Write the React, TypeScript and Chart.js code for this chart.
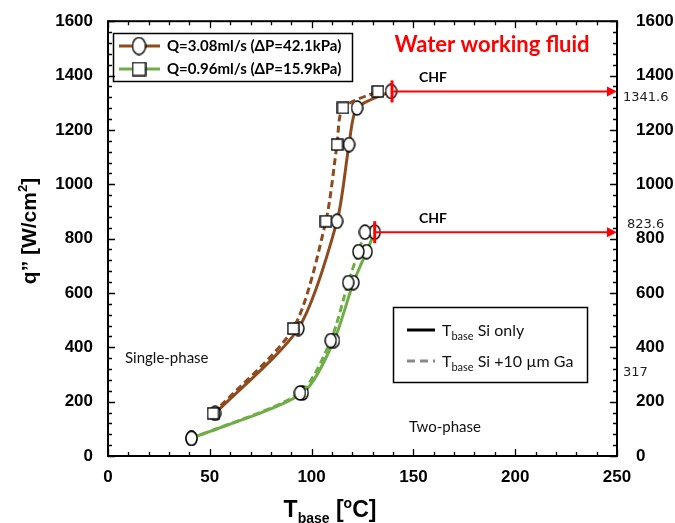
import React, { useEffect, useRef } from "react";
import { Chart, registerables } from "chart.js";

Chart.register(...registerables);

// ---- data ----
const brownY = [157, 469, 864, 1146, 1281, 1341.6];
const brownSolidX = [52.6, 93.5, 112.5, 118.4, 122.3, 139];
const brownDashX = [51.6, 91, 107, 112.5, 115.4, 132.6];
const greenY = [65, 232, 425, 638, 752, 823.6];
const greenSolidX = [41, 95.6, 111, 120.5, 127, 131];
const greenDashX = [41, 94.3, 109.4, 118, 123, 126.2];

const chfX = [139.5, 131];
const chfY = [1341.6, 823.6];
const extraRightLabels = ["1341.6", "823.6", "317"];
const extraRightValues = [1341.6, 823.6, 317];

const xTickStep = 50;
const yTickStep = 200;

const legendTopLabels = ["Q=3.08ml/s (ΔP=42.1kPa)", "Q=0.96ml/s (ΔP=15.9kPa)"];
const legendBottomLabels = [" Si only", " Si +10 µm Ga"];

const BROWN = "#8E4B1E";
const GREEN = "#70AD47";
const RED = "#FF0000";
const ARIAL = '"Liberation Sans", Arial, sans-serif';
const CAL = 'Lato, "Open Sans", sans-serif';

function makeEllipse(w: number, h: number) {
  const c = document.createElement("canvas");
  c.width = w;
  c.height = h;
  const ctx = c.getContext("2d")!;
  ctx.beginPath();
  ctx.ellipse(w / 2, h / 2, w / 2 - 1, h / 2 - 1, 0, 0, Math.PI * 2);
  ctx.fillStyle = "#fff";
  ctx.fill();
  ctx.lineWidth = 1.4;
  ctx.strokeStyle = "#000";
  ctx.stroke();
  return c;
}
function makeSquare(s: number) {
  const c = document.createElement("canvas");
  c.width = s;
  c.height = s;
  const ctx = c.getContext("2d")!;
  ctx.fillStyle = "#fff";
  ctx.fillRect(1, 1, s - 2, s - 2);
  ctx.lineWidth = 1.4;
  ctx.strokeStyle = "#000";
  ctx.strokeRect(1, 1, s - 2, s - 2);
  return c;
}

type Part = { t: string; f: string; dy?: number };
function drawRich(ctx: CanvasRenderingContext2D, parts: Part[], x: number, y: number, align: "left" | "center") {
  ctx.save();
  ctx.textBaseline = "alphabetic";
  ctx.textAlign = "left";
  let total = 0;
  for (const p of parts) {
    ctx.font = p.f;
    total += ctx.measureText(p.t).width;
  }
  let cx = align === "center" ? x - total / 2 : x;
  for (const p of parts) {
    ctx.font = p.f;
    ctx.fillText(p.t, cx, y + (p.dy || 0));
    cx += ctx.measureText(p.t).width;
  }
  ctx.restore();
}

export default function App() {
  const ref = useRef<HTMLCanvasElement>(null);

  useEffect(() => {
    const ellipse = makeEllipse(13, 16);
    const square = makeSquare(13);
    const legEllipse = makeEllipse(15, 19);
    const legSquare = makeSquare(15);

    const pts = (xs: number[], ys: number[]) => xs.map((x, i) => ({ x, y: ys[i] }));

    const overlay = {
      id: "overlay",
      afterDatasetsDraw(chart: any) {
        const ctx = chart.ctx as CanvasRenderingContext2D;
        const xs = chart.scales.x;
        const ys = chart.scales.y;
        const { right } = chart.chartArea;
        ctx.save();
        for (let i = 0; i < chfX.length; i++) {
          const px = xs.getPixelForValue(chfX[i]);
          const py = ys.getPixelForValue(chfY[i]);
          ctx.strokeStyle = RED;
          ctx.fillStyle = RED;
          ctx.lineWidth = 2;
          ctx.beginPath();
          ctx.moveTo(px, py);
          ctx.lineTo(right - 9, py);
          ctx.stroke();
          ctx.beginPath();
          ctx.moveTo(right, py);
          ctx.lineTo(right - 10, py - 5);
          ctx.lineTo(right - 10, py + 5);
          ctx.closePath();
          ctx.fill();
          ctx.lineWidth = 3;
          ctx.beginPath();
          ctx.moveTo(px, py - 11);
          ctx.lineTo(px, py + 11);
          ctx.stroke();
          ctx.fillStyle = "#000";
          ctx.font = `bold 14px ${CAL}`;
          ctx.textAlign = "left";
          ctx.textBaseline = "middle";
          ctx.fillText("CHF", 419, py - 14);
        }
        ctx.restore();
      },
      afterDraw(chart: any) {
        const ctx = chart.ctx as CanvasRenderingContext2D;
        const xs = chart.scales.x;
        const ys = chart.scales.y;
        const { left, right, top, bottom } = chart.chartArea;
        ctx.save();
        // frame
        ctx.strokeStyle = "#000";
        ctx.lineWidth = 2;
        ctx.strokeRect(left, top, right - left, bottom - top);
        // ticks (inward)
        ctx.lineWidth = 1.3;
        ctx.beginPath();
        for (let v = 0; v <= 250; v += 10) {
          const p = Math.round(xs.getPixelForValue(v)) + 0.5;
          const len = v % 50 === 0 ? 7 : 4;
          ctx.moveTo(p, bottom);
          ctx.lineTo(p, bottom - len);
          ctx.moveTo(p, top);
          ctx.lineTo(p, top + len);
        }
        for (let v = 0; v <= 1600; v += 40) {
          const p = Math.round(ys.getPixelForValue(v)) + 0.5;
          const len = v % 200 === 0 ? 7 : 4;
          ctx.moveTo(left, p);
          ctx.lineTo(left + len, p);
          ctx.moveTo(right, p);
          ctx.lineTo(right - len, p);
        }
        ctx.stroke();

        // extra right labels
        ctx.fillStyle = "#222";
        ctx.font = `13px "DejaVu Sans", sans-serif`;
        ctx.textAlign = "left";
        ctx.textBaseline = "middle";
        const offs = [6, -8, 3];
        const xoffs = [623, 627, 623];
        extraRightLabels.forEach((t, i) => {
          ctx.fillText(t, xoffs[i], ys.getPixelForValue(extraRightValues[i]) + offs[i]);
        });

        // texts
        ctx.fillStyle = RED;
        ctx.font = `bold 22px ${CAL}`;
        ctx.textAlign = "center";
        ctx.textBaseline = "middle";
        ctx.fillText("Water working fluid", 492, 45);

        ctx.fillStyle = "#111";
        ctx.font = `15px ${CAL}`;
        ctx.textAlign = "left";
        ctx.fillText("Single-phase", 125, 358);
        ctx.fillText("Two-phase", 409, 427);

        // top-left legend
        ctx.strokeStyle = "#000";
        ctx.lineWidth = 1.5;
        ctx.strokeRect(113.5, 33.5, 239, 48);
        const rows = [46, 69];
        const cols = [BROWN, GREEN];
        const marks = [legEllipse, legSquare];
        rows.forEach((y, i) => {
          ctx.strokeStyle = cols[i];
          ctx.lineWidth = 3;
          ctx.beginPath();
          ctx.moveTo(119, y);
          ctx.lineTo(160, y);
          ctx.stroke();
          const m = marks[i];
          ctx.drawImage(m, 139 - m.width / 2, y - m.height / 2);
          ctx.fillStyle = "#000";
          ctx.font = `bold 15px ${CAL}`;
          ctx.textAlign = "left";
          ctx.textBaseline = "middle";
          ctx.fillText(legendTopLabels[i], 167, y);
        });

        // bottom-right legend
        ctx.strokeStyle = "#000";
        ctx.lineWidth = 1.5;
        ctx.strokeRect(393.5, 307.5, 194, 75);
        const rows2 = [330, 361];
        rows2.forEach((y, i) => {
          ctx.strokeStyle = i === 0 ? "#000" : "#888";
          ctx.lineWidth = 3;
          ctx.setLineDash(i === 0 ? [] : [8, 5]);
          ctx.beginPath();
          ctx.moveTo(407, y);
          ctx.lineTo(435, y);
          ctx.stroke();
          ctx.setLineDash([]);
          ctx.fillStyle = "#111";
          drawRich(
            ctx,
            [
              { t: "T", f: `16px ${CAL}` },
              { t: "base", f: `11px ${CAL}`, dy: 4 },
              { t: legendBottomLabels[i], f: `16px ${CAL}` },
            ],
            442,
            y + 6,
            "left"
          );
        });

        // axis titles
        ctx.fillStyle = "#000";
        drawRich(
          ctx,
          [
            { t: "T", f: `bold 23px ${ARIAL}` },
            { t: "base", f: `bold 14px ${ARIAL}`, dy: 6 },
            { t: " [", f: `bold 23px ${ARIAL}` },
            { t: "o", f: `bold 14px ${ARIAL}`, dy: -9 },
            { t: "C]", f: `bold 23px ${ARIAL}` },
          ],
          330,
          517,
          "center"
        );
        ctx.save();
        ctx.translate(36, 231);
        ctx.rotate(-Math.PI / 2);
        drawRich(
          ctx,
          [
            { t: "q” [W/cm", f: `bold 21px ${ARIAL}` },
            { t: "2", f: `bold 13px ${ARIAL}`, dy: -9 },
            { t: "]", f: `bold 21px ${ARIAL}` },
          ],
          0,
          0,
          "center"
        );
        ctx.restore();
        ctx.restore();
      },
    };

    const tickFont = { family: ARIAL, size: 17, weight: "bold" as const };
    const plain = (v: any) => String(v);

    const common = { borderWidth: 3, tension: 0.25, pointRadius: 7 };

    const chart = new Chart(ref.current!, {
      type: "line",
      data: {
        datasets: [
          {
            label: "brown dashed",
            data: pts(brownDashX, brownY),
            borderColor: BROWN,
            borderDash: [7, 4],
            pointStyle: square as any,
            ...common,
          },
          {
            label: "brown solid",
            data: pts(brownSolidX, brownY),
            borderColor: BROWN,
            pointStyle: ellipse as any,
            ...common,
          },
          {
            label: "green dashed",
            data: pts(greenDashX, greenY),
            borderColor: GREEN,
            borderDash: [7, 4],
            pointStyle: ellipse as any,
            ...common,
          },
          {
            label: "green solid",
            data: pts(greenSolidX, greenY),
            borderColor: GREEN,
            pointStyle: ellipse as any,
            ...common,
          },
        ],
      },
      options: {
        animation: false,
        responsive: false,
        maintainAspectRatio: false,
        layout: { padding: { top: 19, left: 0, right: 0, bottom: 0 } },
        plugins: { legend: { display: false }, tooltip: { enabled: false } },
        scales: {
          x: {
            type: "linear",
            position: "bottom",
            min: 0,
            max: 250,
            ticks: { stepSize: xTickStep, font: tickFont, color: "#000", padding: 3, maxRotation: 0, autoSkip: false, callback: plain },
            grid: { display: false },
            border: { display: false },
            afterFit: (s: any) => {
              s.height = 67;
            },
          },
          y: {
            type: "linear",
            position: "left",
            min: 0,
            max: 1600,
            ticks: { stepSize: yTickStep, font: tickFont, color: "#000", padding: 7, callback: plain },
            grid: { display: false },
            border: { display: false },
            afterFit: (s: any) => {
              s.width = 108;
            },
          },
          y2: {
            type: "linear",
            position: "right",
            min: 0,
            max: 1600,
            ticks: { stepSize: yTickStep, font: tickFont, color: "#000", padding: 11, callback: plain },
            grid: { display: false },
            border: { display: false },
            afterFit: (s: any) => {
              s.width = 58;
            },
          },
        },
      } as any,
      plugins: [overlay],
    });
    return () => chart.destroy();
  }, []);

  return (
    <div style={{ position: "absolute", left: 0, top: 0, width: 675, height: 523, background: "#fff" }}>
      <canvas ref={ref} width={675} height={523} style={{ width: 675, height: 523 }} />
    </div>
  );
}
